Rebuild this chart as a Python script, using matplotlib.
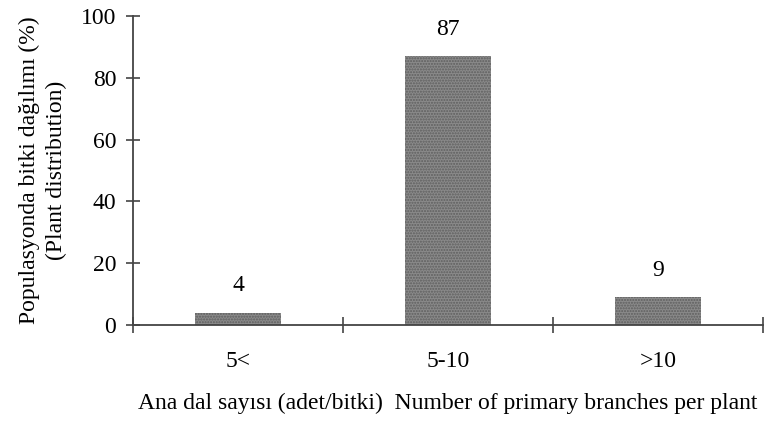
import numpy as np
import matplotlib
matplotlib.use("Agg")
import matplotlib.pyplot as plt

categories = ["5<", "5-10", ">10"]
values = [4, 87, 9]
y_ticks = [0, 20, 40, 60, 80, 100]

plt.rcParams['font.family'] = ['Liberation Serif', 'DejaVu Serif']
plt.rcParams['hatch.linewidth'] = 1.0

fig = plt.figure(figsize=(7.68, 4.21), dpi=100)
ax = fig.add_axes([0.1732, 0.228, 0.8203, 0.734])

x = np.arange(len(categories))
ax.bar(x, values, width=0.405, color="#8a8a8a", edgecolor="#5e5e5e",
       hatch="......", linewidth=0)

for xi, v in zip(x, values):
    ax.annotate(str(v), (xi, v), textcoords="offset points", xytext=(0, 12),
                ha="center", va="bottom", fontsize=17)

ax.set_xlim(-0.5, len(categories) - 0.5)
ax.set_ylim(0, 100)

ax.spines['top'].set_visible(False)
ax.spines['right'].set_visible(False)
for s in ['left', 'bottom']:
    ax.spines[s].set_color("#444444")
    ax.spines[s].set_linewidth(1.3)

ax.set_yticks(y_ticks)
ax.tick_params(axis='y', direction='inout', length=10, width=1.2,
               color="#444444", labelsize=17, pad=7)

ax.set_xticks(np.arange(len(categories) + 1) - 0.5)
ax.set_xticklabels([])
ax.set_xticks(x, minor=True)
ax.set_xticklabels(categories, minor=True)
ax.tick_params(axis='x', which='major', direction='inout', length=11,
               width=1.2, color="#444444")
ax.tick_params(axis='x', which='minor', length=0, labelsize=17, pad=19)

ax.set_ylabel("Populasyonda bitki dağılımı (%)\n(Plant distribution)",
              fontsize=17, labelpad=10, linespacing=1.35)
ax.set_xlabel("Ana dal sayısı (adet/bitki)  Number of primary branches per plant",
              fontsize=17, labelpad=14.5)

fig.savefig("out.png", dpi=100)
